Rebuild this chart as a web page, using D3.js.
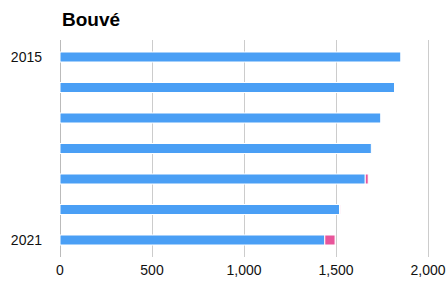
<!DOCTYPE html>
<html><head><meta charset="utf-8">
<script src="https://cdn.jsdelivr.net/npm/d3@7"></script>
<style>body{margin:0;background:#fff;font-family:"Liberation Sans",Arial,Helvetica,sans-serif;}</style>
</head><body><svg id="c" width="447" height="281"></svg>
<script>
const years = ["2015","2016","2017","2018","2019","2020","2021"];
const yearLabels = ["2015","2021"];
const seriesBlue = [1852, 1818, 1743, 1692, 1659, 1519, 1439];
const seriesPink = [0, 0, 0, 0, 16, 6, 56];
const xTicks = [0, 500, 1000, 1500, 2000];
const colors = ["#4a9ff5", "#e8559a"];

const svg = d3.select("#c");
const x = d3.scaleLinear().domain([0, 2000]).range([60, 428]);
const y = d3.scalePoint().domain(years).range([41.75, 255.25]).padding(0.5);
const barH = 10;

svg.append("text").attr("x", 62).attr("y", 26).attr("font-size", 19).attr("font-weight", "bold").attr("fill", "#000").text("Bouvé");

svg.append("g").selectAll("line").data(xTicks).join("line")
  .attr("x1", d => x(d)).attr("x2", d => x(d)).attr("y1", 40).attr("y2", 257)
  .attr("stroke", d => d === 0 ? "#bbb" : "#ccc").attr("stroke-width", 1)
  .attr("shape-rendering", "crispEdges");

const data = years.map((yr, i) => ({yr, b: seriesBlue[i], p: seriesPink[i]}));
const stack = d3.stack().keys(["b", "p"])(data);

svg.append("g").selectAll("g").data(stack).join("g").attr("fill", (d, i) => colors[i])
  .selectAll("rect").data(d => d.filter(s => s[1] > s[0])).join("rect")
  .attr("x", d => x(d[0])).attr("width", d => x(d[1]) - x(d[0]))
  .attr("y", d => y(d.data.yr) - barH / 2).attr("height", barH)
  .attr("stroke", "#fff").attr("stroke-width", 1);

svg.append("g").selectAll("text").data(yearLabels).join("text")
  .attr("x", 42).attr("y", d => y(d)).attr("dy", "0.35em").attr("text-anchor", "end")
  .attr("font-size", 14).attr("fill", "#111").text(d => d);

svg.append("g").selectAll("text").data(xTicks).join("text")
  .attr("x", d => x(d)).attr("y", 270).attr("dy", "0.35em").attr("text-anchor", "middle")
  .attr("font-size", 14).attr("fill", "#111").text(d => d3.format(",")(d));
</script></body></html>
